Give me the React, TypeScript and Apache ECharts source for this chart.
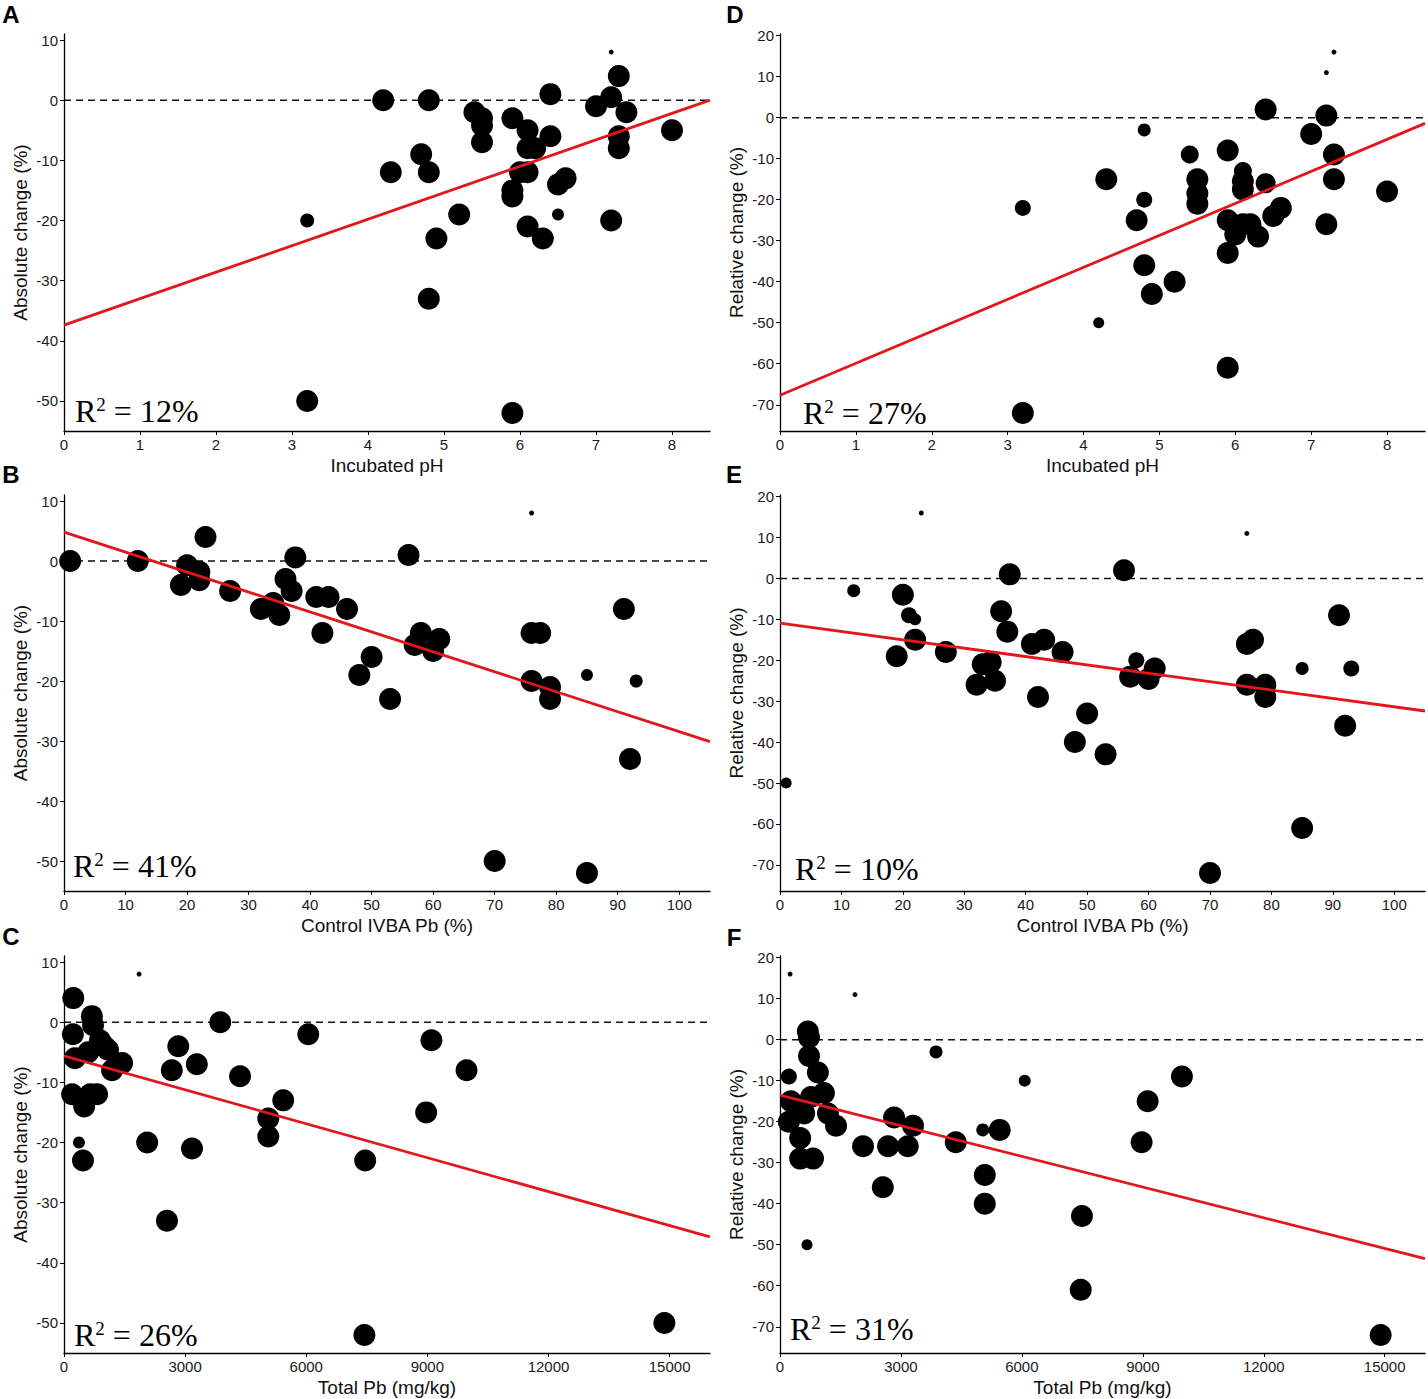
import React, { useEffect, useRef } from "react";
import * as echarts from "echarts";

// ---- Data ----
const phTicks = [0, 1, 2, 3, 4, 5, 6, 7, 8];
const ivbaTicks = [0, 10, 20, 30, 40, 50, 60, 70, 80, 90, 100];
const totalTicks = [0, 3000, 6000, 9000, 12000, 15000];
const absTicks = [-50, -40, -30, -20, -10, 0, 10];
const relTicks = [-70, -60, -50, -40, -30, -20, -10, 0, 10, 20];

// Panel A: absolute change vs incubated pH
const aX = [3.2, 3.2, 4.2, 4.3, 4.7, 4.8, 4.8, 4.8, 4.9, 5.2, 5.4, 5.5, 5.5, 5.5, 5.9, 6.1, 6.4, 6.4, 6.1, 6.2, 6.0, 6.1, 5.9, 5.9, 6.1, 6.3, 6.5, 6.6, 6.5, 7.0, 7.2, 7.3, 7.4, 7.3, 7.3, 7.2, 7.2, 8.0, 5.9];
const aY = [-20, -50, 0, -12, -9, 0, -12, -33, -23, -19, -2, -3, -4.2, -7, -3, -5, 1, -6, -8, -8, -12, -12, -15, -16, -21, -23, -14, -13, -19, -1, 0.5, 4, -2, -6, -8, -20, 8, -5, -52];
const aS = [14, 22, 22, 22, 22, 22, 22, 22, 22, 22, 22, 22, 22, 22, 22, 22, 22, 22, 22, 22, 22, 22, 22, 22, 22, 22, 22, 22, 12, 22, 22, 22, 22, 22, 22, 22, 5, 22, 22];
const aFit = [-37.4, 0];

// Panel B: absolute change vs control IVBA Pb
const bX = [1, 12, 23, 20, 19, 22, 22, 27, 32, 34, 35, 36, 37, 37.6, 41, 43, 46, 42, 50, 48, 53, 56, 58, 57, 61, 60, 76, 76, 77.4, 76, 79, 79, 85, 91, 93, 92, 70, 85];
const bY = [0, 0, 4, -0.7, -4, -1.8, -3.2, -5, -8, -7, -9, -3, -5, 0.6, -6, -6, -8, -12, -16, -19, -23, 1, -12, -14, -13, -15, 8, -12, -12, -20, -21, -23, -19, -8, -20, -33, -50, -52];
const bS = [22, 22, 22, 22, 22, 22, 22, 22, 22, 22, 22, 22, 22, 22, 22, 22, 22, 22, 22, 22, 22, 22, 22, 22, 22, 22, 5, 22, 22, 22, 22, 22, 12, 22, 13, 22, 22, 22];
const bFit = [4.8, -30.1];

// Panel C: absolute change vs total Pb
const cX = [1860, 230, 220, 690, 720, 890, 270, 600, 1090, 1440, 1190, 200, 500, 820, 650, 370, 470, 2060, 2830, 2670, 3290, 3170, 3870, 4360, 2550, 5430, 5060, 5060, 6050, 7460, 9100, 8970, 9970, 7440, 14870, 1000];
const cY = [8, 4, -2, 1, -0.5, -3, -6, -5, -4.6, -6.8, -8, -12, -14, -12, -12, -20, -23, -20, -4, -8, -7, -21, 0, -9, -33, -13, -16, -19, -2, -23, -3, -15, -8, -52, -50, -4];
const cS = [5, 22, 22, 22, 22, 22, 22, 22, 22, 22, 22, 22, 22, 22, 22, 12, 22, 22, 22, 22, 22, 22, 22, 22, 22, 22, 22, 22, 22, 22, 22, 22, 22, 22, 22, 22];
const cFit = [-5.6, -35.7];

// Panel D: relative change vs incubated pH
const dX = [3.2, 3.2, 4.2, 4.3, 4.8, 4.8, 4.7, 4.8, 4.9, 5.2, 5.4, 5.5, 5.5, 5.5, 5.9, 6.1, 6.1, 6.1, 6.4, 6.4, 7.2, 7.0, 7.3, 7.3, 7.2, 8.0, 6.6, 6.5, 5.9, 6.1, 6.2, 6.0, 6.3, 5.9, 5.9, 7.2, 7.3];
const dY = [-22, -72, -50, -15, -3, -20, -25, -36, -43, -40, -9, -15, -18.5, -21, -8, -13, -15.5, -17.5, 2, -16, 0.5, -4, -9, -15, -26, -18, -22, -24, -25, -26, -26, -28.5, -29, -33, -61, 11, 16];
const dS = [16, 22, 11, 22, 13, 16, 22, 22, 22, 22, 18, 22, 22, 22, 22, 18, 22, 22, 22, 20, 22, 22, 22, 22, 22, 22, 22, 22, 22, 22, 22, 22, 22, 22, 22, 5, 5];
const dFit = [-67.7, -1.4];

// Panel E: relative change vs control IVBA Pb
const eX = [23, 12, 20, 21, 22, 22, 19, 27, 36, 37.4, 37, 33, 34.3, 32, 35, 41, 43, 46, 42, 50, 48, 53, 1, 56, 76, 58, 57, 61, 60, 76, 77, 76, 79, 79, 85, 91, 93, 92, 85, 70];
const eY = [16, -3, -4, -9, -10, -15, -19, -18, -8, 1, -13, -21, -20.5, -26, -25, -16, -15, -18, -29, -33, -40, -43, -50, 2, 11, -20, -24, -22, -24.6, -16, -15, -26, -26, -29, -22, -9, -22, -36, -61, -72];
const eS = [5, 13, 22, 16, 12, 22, 22, 22, 22, 22, 22, 22, 22, 22, 22, 22, 22, 22, 22, 22, 22, 22, 11, 22, 5, 16, 22, 22, 22, 22, 22, 22, 22, 22, 13, 22, 16, 22, 22, 22];
const eFit = [-10.9, -32.4];

// Panel F: relative change vs total Pb
const fX = [250, 1860, 690, 720, 720, 940, 220, 1090, 270, 770, 600, 1190, 1390, 220, 500, 500, 820, 2060, 2830, 2680, 3300, 3170, 3870, 4360, 2550, 5030, 5450, 5080, 5080, 6070, 7490, 9120, 8970, 9970, 7460, 14900, 670];
const fY = [16, 11, 2, 0.5, -4, -8, -9, -13, -15, -14, -18, -18, -21, -20, -24, -29, -29, -26, -19, -26, -21, -26, -3, -25, -36, -22, -22, -33, -40, -10, -43, -15, -25, -9, -61, -72, -50];
const fS = [5, 5, 22, 22, 22, 22, 16, 22, 22, 22, 22, 22, 22, 22, 22, 22, 22, 22, 22, 22, 22, 22, 13, 22, 22, 13, 22, 22, 22, 12, 22, 22, 22, 22, 22, 22, 11];
const fFit = [-13.5, -53.4];

const r2Values = ["12%", "41%", "26%", "27%", "10%", "31%"];
const panelLetters = ["A", "B", "C", "D", "E", "F"];

const SANS = "'Liberation Sans', Arial, Helvetica, sans-serif";
const SERIF = "'Liberation Serif', 'Times New Roman', serif";

type Panel = {
  xs: number[]; ys: number[]; ss: number[]; fit: number[];
  left: number; top: number; width: number; height: number;
  xMax: number; yMin: number; yMax: number;
  xTicks: number[]; yTicks: number[];
  xName: string; yName: string;
  letterX: number; letterY: number; r2X: number; r2Y: number;
};

const panels: Panel[] = [
  { xs: aX, ys: aY, ss: aS, fit: aFit, left: 64, top: 34, width: 646, height: 397, xMax: 8.5, yMin: -55, yMax: 11, xTicks: phTicks, yTicks: absTicks, xName: "Incubated pH", yName: "Absolute change (%)", letterX: 11, letterY: 14, r2X: 75, r2Y: 411 },
  { xs: bX, ys: bY, ss: bS, fit: bFit, left: 64, top: 495, width: 646, height: 396, xMax: 105, yMin: -55, yMax: 11, xTicks: ivbaTicks, yTicks: absTicks, xName: "Control IVBA Pb (%)", yName: "Absolute change (%)", letterX: 11, letterY: 474, r2X: 73, r2Y: 866 },
  { xs: cX, ys: cY, ss: cS, fit: cFit, left: 64, top: 956, width: 646, height: 397, xMax: 16000, yMin: -55, yMax: 11, xTicks: totalTicks, yTicks: absTicks, xName: "Total Pb (mg/kg)", yName: "Absolute change (%)", letterX: 11, letterY: 936, r2X: 74, r2Y: 1335 },
  { xs: dX, ys: dY, ss: dS, fit: dFit, left: 780, top: 34, width: 645, height: 397, xMax: 8.5, yMin: -76.4, yMax: 20.4, xTicks: phTicks, yTicks: relTicks, xName: "Incubated pH", yName: "Relative change (%)", letterX: 735, letterY: 14, r2X: 803, r2Y: 413 },
  { xs: eX, ys: eY, ss: eS, fit: eFit, left: 780, top: 495, width: 645, height: 396, xMax: 105, yMin: -76.4, yMax: 20.4, xTicks: ivbaTicks, yTicks: relTicks, xName: "Control IVBA Pb (%)", yName: "Relative change (%)", letterX: 734, letterY: 474, r2X: 795, r2Y: 869 },
  { xs: fX, ys: fY, ss: fS, fit: fFit, left: 780, top: 956, width: 645, height: 397, xMax: 16000, yMin: -76.4, yMax: 20.4, xTicks: totalTicks, yTicks: relTicks, xName: "Total Pb (mg/kg)", yName: "Relative change (%)", letterX: 734, letterY: 937, r2X: 790, r2Y: 1329 },
];

function buildOption() {
  const grid: any[] = [];
  const xAxis: any[] = [];
  const yAxis: any[] = [];
  const series: any[] = [];
  const graphic: any[] = [];

  panels.forEach((p, i) => {
    grid.push({ left: p.left, top: p.top, width: p.width, height: p.height, containLabel: false });
    xAxis.push({
      type: "value", gridIndex: i, min: 0, max: p.xMax,
      axisLine: { show: true, onZero: false, lineStyle: { color: "#000", width: 1.3 } },
      axisTick: { show: true, length: 4, customValues: p.xTicks, lineStyle: { color: "#000", width: 1 } },
      axisLabel: { customValues: p.xTicks, fontSize: 15, color: "#1a1a1a", margin: 6, fontFamily: SANS, formatter: (v: number) => String(v) },
      splitLine: { show: false },
      name: p.xName, nameLocation: "middle", nameGap: 25,
      nameTextStyle: { fontSize: 19, color: "#111", fontFamily: SANS },
    });
    yAxis.push({
      type: "value", gridIndex: i, min: p.yMin, max: p.yMax,
      axisLine: { show: true, onZero: false, lineStyle: { color: "#000", width: 1.3 } },
      axisTick: { show: true, length: 4, customValues: p.yTicks, lineStyle: { color: "#000", width: 1 } },
      axisLabel: { customValues: p.yTicks, fontSize: 15, color: "#1a1a1a", margin: 6, fontFamily: SANS, formatter: (v: number) => String(v) },
      splitLine: { show: false },
      name: p.yName, nameLocation: "middle", nameGap: 34,
      nameTextStyle: { fontSize: 19, color: "#111", fontFamily: SANS },
    });
    // zero reference (dashed)
    series.push({
      type: "line", xAxisIndex: i, yAxisIndex: i, z: 1, silent: true,
      data: [[0, 0], [p.xMax, 0]], symbol: "none",
      lineStyle: { color: "#111", width: 1.5, type: [7, 5] },
    });
    // points
    series.push({
      type: "scatter", xAxisIndex: i, yAxisIndex: i, z: 2, silent: true,
      data: p.xs.map((x, j) => [x, p.ys[j], p.ss[j]]),
      symbol: "circle",
      symbolSize: (v: number[]) => v[2],
      itemStyle: { color: "#000", opacity: 1 },
    });
    // fitted regression line
    series.push({
      type: "line", xAxisIndex: i, yAxisIndex: i, z: 3, silent: true,
      data: [[0, p.fit[0]], [p.xMax, p.fit[1]]], symbol: "none",
      lineStyle: { color: "#e3161b", width: 2.8 },
    });
    graphic.push({
      type: "text", x: p.letterX, y: p.letterY, z: 10,
      style: { text: panelLetters[i], fontSize: 24, fontWeight: "bold", fontFamily: SANS, fill: "#000", align: "center", verticalAlign: "middle" },
    });
    graphic.push({
      type: "text", x: p.r2X, y: p.r2Y, z: 10,
      style: {
        text: "{r|R}{s|2}{r| = " + r2Values[i] + "}",
        align: "left", verticalAlign: "middle",
        rich: {
          r: { fontSize: 32, fontFamily: SERIF, fill: "#000" },
          s: { fontSize: 19, fontFamily: SERIF, fill: "#000", verticalAlign: "top" },
        },
      },
    });
  });

  return { animation: false, backgroundColor: "#fff", grid, xAxis, yAxis, series, graphic };
}

export default function App() {
  const ref = useRef<HTMLDivElement>(null);
  useEffect(() => {
    if (!ref.current) return;
    const chart = echarts.init(ref.current, undefined, { renderer: "svg" });
    chart.setOption(buildOption() as any);
    return () => chart.dispose();
  }, []);
  return (
    <div
      ref={ref}
      style={{ position: "absolute", left: 0, top: 0, width: 1428, height: 1399, background: "#fff" }}
    />
  );
}
